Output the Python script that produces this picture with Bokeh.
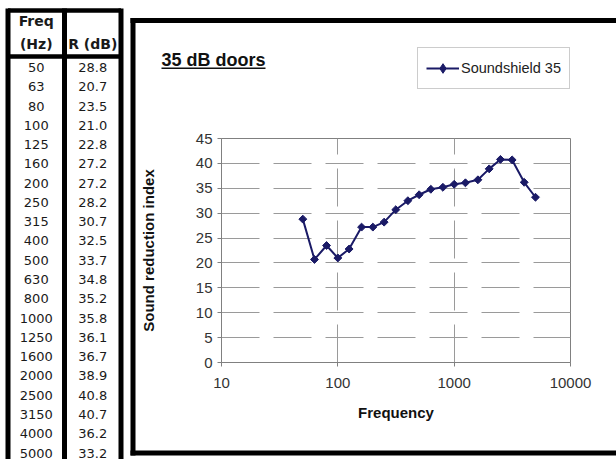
import numpy as np
from bokeh.plotting import figure
from bokeh.models import (Range1d, Label, Legend, LegendItem, ColumnDataSource,
                          FixedTicker, NumeralTickFormatter)
from bokeh.embed import file_html
from bokeh.resources import INLINE
from bokeh.core.properties import value

# ---------------- data ----------------
freq = [50, 63, 80, 100, 125, 160, 200, 250, 315, 400, 500, 630, 800,
        1000, 1250, 1600, 2000, 2500, 3150, 4000, 5000]
r_db = [28.8, 20.7, 23.5, 21.0, 22.8, 27.2, 27.2, 28.2, 30.7, 32.5, 33.7,
        34.8, 35.2, 35.8, 36.1, 36.7, 38.9, 40.8, 40.7, 36.2, 33.2]
freq_labels = [str(f) for f in freq]
r_labels = [f"{v:.1f}" for v in r_db]
header_freq = ["Freq", "(Hz)"]
header_r = "R (dB)"
y_ticks = [0, 5, 10, 15, 20, 25, 30, 35, 40, 45]
x_ticks = [10, 100, 1000, 10000]
x_grid = [100, 1000]
y_grid = [5, 10, 15, 20, 25, 30, 35, 40]
series_name = "Soundshield 35"
title_text = "35 dB doors"
x_label = "Frequency"
y_label = "Sound reduction index"

W, H = 616, 459
NAVY = "#1a1a66"
TFONT = value("DejaVu Sans")
CFONT = "Liberation Sans"

# ---------------- background page: table, box, title, legend ----------------
bg = figure(width=W, height=H, output_backend="svg", toolbar_location=None,
            min_border=0, x_axis_location=None, y_axis_location=None,
            x_range=Range1d(0, W), y_range=Range1d(H, 0),
            styles={"position": "absolute", "left": "0px", "top": "0px"})
bg.grid.visible = False
bg.outline_line_color = None
bg.background_fill_color = "white"
bg.border_fill_color = "white"

# table coordinate system: columns and rows
COL_X0, COL_W = 7.5, 56.5
ROW_Y0, ROW_H = 67.0, 19.275
bg.extra_x_ranges = {"col": Range1d(-COL_X0 / COL_W, (W - COL_X0) / COL_W),
                     "legend_only": Range1d(1e6, 2e6)}
bg.extra_y_ranges = {"row": Range1d((H - ROW_Y0) / ROW_H, -ROW_Y0 / ROW_H)}

def ry(px):
    return (px - ROW_Y0) / ROW_H

n = len(freq)
src = ColumnDataSource(dict(i=list(range(n)), f=freq_labels, r=r_labels,
                            c1=[0.5] * n, c2=[1.5] * n))
for col, txt in (("c1", "f"), ("c2", "r")):
    bg.text(x=col, y="i", text=txt, source=src, x_range_name="col", y_range_name="row",
            text_align="center", text_baseline="middle", text_font=TFONT,
            text_font_size="13px", text_color="#1a1a1a")

hsrc = ColumnDataSource(dict(x=[0.5, 0.5, 1.5], y=[ry(20), ry(43), ry(43)],
                             t=[header_freq[0], header_freq[1], header_r]))
bg.text(x="x", y="y", text="t", source=hsrc, x_range_name="col", y_range_name="row",
        text_align="center", text_baseline="middle", text_font=TFONT,
        text_font_size="14px", text_font_style="bold", text_color="#1a1a1a")

bg.segment(x0=[0, 1, 2], x1=[0, 1, 2], y0=[ry(8)] * 3, y1=[ry(475)] * 3,
           x_range_name="col", y_range_name="row", line_color="black", line_width=5)
bg.segment(x0=[0, 0], x1=[2, 2], y0=[ry(10), ry(56)], y1=[ry(10), ry(56)],
           x_range_name="col", y_range_name="row", line_color="black", line_width=4.5)

# chart box (left, top, bottom edges; right edge lies beyond the page)
bg.segment(x0=[132.5, 130, 130], x1=[132.5, 640, 640], y0=[17.5, 20, 452.5],
           y1=[455, 20, 452.5], line_color="black", line_width=5)

# title with underline
bg.add_layout(Label(x=161, y=59, text=title_text, text_font=CFONT, text_font_size="18px",
                    text_font_style="bold", text_color="#111111", text_baseline="alphabetic"))
bg.segment(x0=[161], x1=[265], y0=[67.8], y1=[67.8], line_color="#111111", line_width=1.6)

# legend: style twins of the chart's series, drawn on a range outside this canvas
dl = bg.line(freq, r_db, x_range_name="legend_only", line_color=NAVY, line_width=2)
ds = bg.scatter(freq, r_db, x_range_name="legend_only", marker="diamond", size=10,
                fill_color=NAVY, line_color=NAVY)
legend = Legend(items=[LegendItem(label=series_name, renderers=[dl, ds])],
                location=(417, H - 89), border_line_color="#9a9a9a", border_line_width=1,
                background_fill_color="white", label_text_font=CFONT,
                label_text_font_size="14.5px", label_text_color="#222222",
                glyph_width=33, glyph_height=24, label_height=24, label_standoff=2,
                padding=8, margin=0, spacing=0)
bg.add_layout(legend)

# ---------------- chart ----------------
CL, CT, CR, CB = 136, 100, 600, 440     # canvas on the page
FL, FT, FR, FB = 219, 138, 570, 362     # plot area on the page
p = figure(width=CR - CL, height=CB - CT, output_backend="svg", toolbar_location=None,
           x_axis_type="log", x_range=Range1d(10, 10000), y_range=Range1d(0, 45),
           min_border_left=FL - CL, min_border_right=CR - FR,
           min_border_top=FT - CT, min_border_bottom=CB - FB,
           styles={"position": "absolute", "left": f"{CL}px", "top": f"{CT}px"})
p.background_fill_color = None
p.border_fill_color = None
p.outline_line_color = "#808080"
p.outline_line_width = 1

p.xaxis.ticker = FixedTicker(ticks=x_ticks, minor_ticks=[])
p.xaxis.formatter = NumeralTickFormatter(format="0")
p.yaxis.ticker = FixedTicker(ticks=y_ticks, minor_ticks=[])
for ax in (p.xaxis[0], p.yaxis[0]):
    ax.axis_line_color = "#808080"
    ax.major_tick_line_color = "#808080"
    ax.major_tick_in = 0
    ax.major_tick_out = 4
    ax.minor_tick_line_color = None
    ax.major_label_text_font = CFONT
    ax.major_label_text_font_size = "15px"
    ax.major_label_text_color = "#333333"
    ax.axis_label_text_font = CFONT
    ax.axis_label_text_font_size = "15px"
    ax.axis_label_text_font_style = "bold"
    ax.axis_label_text_color = "#111111"
p.xaxis.axis_label = x_label
p.yaxis.axis_label = y_label
p.xaxis.major_label_standoff = 11
p.xaxis.axis_label_standoff = 13
p.yaxis.major_label_standoff = 5
p.yaxis.axis_label_standoff = 36

p.xgrid.ticker = FixedTicker(ticks=x_grid)
p.ygrid.ticker = FixedTicker(ticks=y_grid)
for g in (p.xgrid[0], p.ygrid[0]):
    g.grid_line_color = "#9a9a9a"
    g.grid_line_width = 1
    g.grid_line_dash = "38 14"

p.line(freq, r_db, line_color=NAVY, line_width=2)
p.scatter(freq, r_db, marker="square", angle=np.pi / 4, size=5.6,
          fill_color=NAVY, line_color=NAVY, line_width=1)

open("out.html", "w").write(file_html([bg, p], INLINE))
